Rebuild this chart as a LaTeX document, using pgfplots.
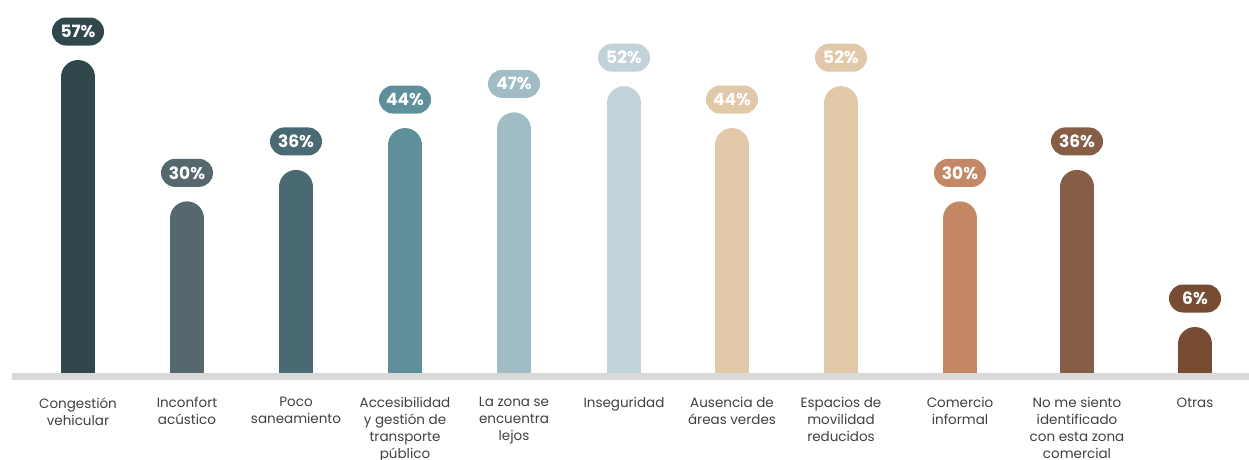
\documentclass[border=0pt]{standalone}
\usepackage{pgfplots}
\pgfplotsset{compat=1.18}
\usepackage{fontspec}
\setmainfont{Poppins}
\definecolor{c1}{HTML}{30474C}
\definecolor{c2}{HTML}{56686E}
\definecolor{c3}{HTML}{4A6A73}
\definecolor{c4}{HTML}{5F8F9B}
\definecolor{c5}{HTML}{A0BCC4}
\definecolor{c6}{HTML}{C1D2D8}
\definecolor{c7}{HTML}{E0C8A8}
\definecolor{c8}{HTML}{E0C8A8}
\definecolor{c9}{HTML}{C48866}
\definecolor{c10}{HTML}{855E45}
\definecolor{c11}{HTML}{784C33}
\definecolor{band}{HTML}{D9D9D9}
\definecolor{lbl}{HTML}{404040}
\pgfplotsset{
  rbar/.style={ycomb, line width=34pt, line cap=round, draw=#1, mark=none,
    nodes near coords={\pgfmathprintnumber{\pgfplotspointmeta}\%},
    every node near coord/.style={fill=#1, text=white, rounded corners=14pt,
      anchor=south, yshift=14.5pt, minimum width=52pt, minimum height=28pt,
      inner sep=0pt, font=\fontsize{17}{17}\selectfont\bfseries}}
}
\begin{document}
\begin{tikzpicture}
\path[use as bounding box] (0,-86pt) rectangle (1249pt,373pt);
\begin{axis}[name=ax, at={(0,0)}, anchor=south west, scale only axis,
  width=1249pt, height=373pt, xmin=0, xmax=1249, ymin=0.46, ymax=71.71,
  /pgf/number format/assume math mode=true,
  axis line style={draw=none}, tick style={draw=none}, ytick=\empty,
  xtick={78,187,296,405,514,624,732,841,960,1077,1195},
  xticklabels={{Congestión\\vehicular},{Inconfort\\acústico},{Poco\\saneamiento},
    {Accesibilidad\\y gestión de\\transporte\\público},{La zona se\\encuentra\\lejos},
    {Inseguridad},{Ausencia de\\áreas verdes},{Espacios de\\movilidad\\reducidos},
    {Comercio\\informal},{No me siento\\identificado\\con esta zona\\comercial},{Otras}},
  xticklabel style={align=center, anchor=north, yshift=-21pt, text=lbl,
    font=\fontsize{13.5}{17}\selectfont},
  clip=true]
\addplot[rbar=c1] coordinates {(78,57)};
\addplot[rbar=c2] coordinates {(187,30)};
\addplot[rbar=c3] coordinates {(296,36)};
\addplot[rbar=c4] coordinates {(405,44)};
\addplot[rbar=c5] coordinates {(514,47)};
\addplot[rbar=c6] coordinates {(624,52)};
\addplot[rbar=c7] coordinates {(732,44)};
\addplot[rbar=c8] coordinates {(841,52)};
\addplot[rbar=c9] coordinates {(960,30)};
\addplot[rbar=c10] coordinates {(1077,36)};
\addplot[rbar=c11] coordinates {(1195,6)};
\end{axis}
\fill[band] ([xshift=12pt]ax.south west) rectangle ([yshift=-7pt]ax.south east);
\end{tikzpicture}
\end{document}
